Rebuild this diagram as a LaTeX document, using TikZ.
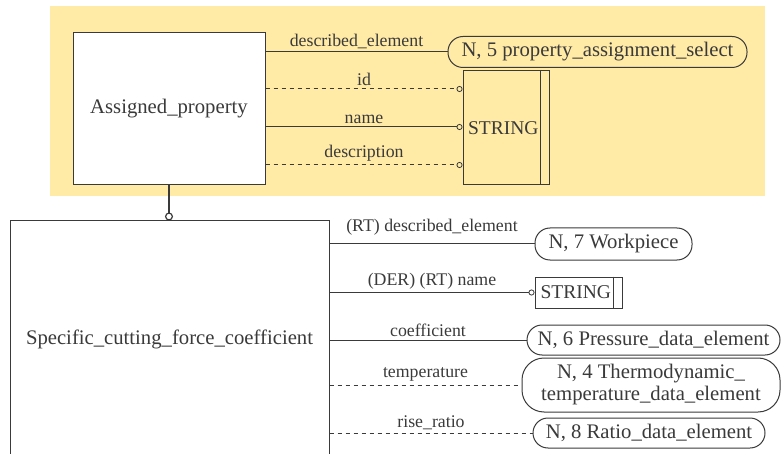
\documentclass[tikz,border=0pt]{standalone}
\usepackage{fontspec}
\setmainfont{Liberation Serif}
\usetikzlibrary{arrows.meta,calc}
\definecolor{bgyellow}{HTML}{FFEAA6}
\definecolor{ink}{HTML}{3A3A3A}
\tikzset{
  ent/.style={draw=ink,line width=1pt,text=ink,font=\fontsize{20.7}{23}\selectfont,inner sep=1pt},
  sel/.style={ent,rounded corners=15pt},
  strbox/.style={ent,font=\fontsize{19.5}{22}\selectfont,text width=76pt,align=left},
  lbl/.style={text=ink,font=\fontsize{17.8}{20}\selectfont,inner sep=3pt},
  rel/.style={draw=ink,line width=1pt},
  opt/.style={rel,dash pattern=on 4.5pt off 3.5pt},
  circ/.style={-{Circle[open,length=6pt,width=6pt,line width=0.8pt]}}
}
\begin{document}
\begin{tikzpicture}[x=1pt,y=-1pt]
\useasboundingbox (0,0) rectangle (781,454);
\fill[bgyellow] (50,6) rectangle (765,196);
% top entities
\node[ent,fill=white,minimum width=192pt,minimum height=152pt] (ap) at (169,109) {Assigned\_property};
\node[sel,minimum width=299pt,minimum height=31pt] (n5) at (597.5,52) {N, 5 property\_assignment\_select};
\node[strbox,minimum width=86pt,minimum height=114pt] (s1) at (506,128) {STRING};
\draw[ink,line width=1pt] ([xshift=-9pt]s1.north east) -- ([xshift=-9pt]s1.south east);
\coordinate (yid) at (0,89);
\coordinate (yname) at (0,127);
\coordinate (ydesc) at (0,165);
\draw[rel] (ap.east |- n5.west) -- node[lbl,above] {described\_element} (n5.west);
\draw[opt,circ] (ap.east |- yid) -- node[lbl,above] {id} (s1.west |- yid);
\draw[rel,circ] (ap.east |- yname) -- node[lbl,above] {name} (s1.west |- yname);
\draw[opt,circ] (ap.east |- ydesc) -- node[lbl,above] {description} (s1.west |- ydesc);
% bottom entity
\node[ent,fill=white,minimum width=319pt,minimum height=236pt] (sc) at (169.5,339) {Specific\_cutting\_force\_coefficient};
\draw[draw=ink,line width=2pt,-{Circle[open,length=8pt,width=8pt,line width=1.2pt]}] (ap.south) -- (sc.north -| ap.south);
% bottom targets
\node[sel,fill=white,minimum width=157pt,minimum height=32pt] (wp) at (613.5,244) {N, 7 Workpiece};
\node[strbox,fill=white,minimum width=87pt,minimum height=31pt] (s2) at (578.5,292.5) {STRING};
\draw[ink,line width=1pt] ([xshift=-9pt]s2.north east) -- ([xshift=-9pt]s2.south east);
\node[sel,fill=white,minimum width=253pt,minimum height=30pt] (pr) at (653.5,340) {N, 6 Pressure\_data\_element};
\node[ent,fill=white,rounded corners=22pt,minimum width=258pt,minimum height=54pt,align=center,font=\fontsize{20.7}{22}\selectfont] (th) at (651,385) {N, 4 Thermodynamic\_\\temperature\_data\_element};
\node[sel,fill=white,minimum width=232pt,minimum height=30pt] (ra) at (649,433) {N, 8 Ratio\_data\_element};
\draw[rel] (sc.east |- wp.west) -- node[lbl,above,yshift=5pt] {(RT) described\_element} (wp.west);
\draw[rel,circ] (sc.east |- s2.west) -- node[lbl,above] {(DER) (RT) name} (s2.west);
\draw[rel] (sc.east |- pr.west) -- node[lbl,above] {coefficient} (pr.west);
\draw[opt] (sc.east |- th.west) -- node[lbl,above] {temperature} (th.west);
\draw[opt] (sc.east |- ra.west) -- node[lbl,above] {rise\_ratio} (ra.west);
\end{tikzpicture}
\end{document}
